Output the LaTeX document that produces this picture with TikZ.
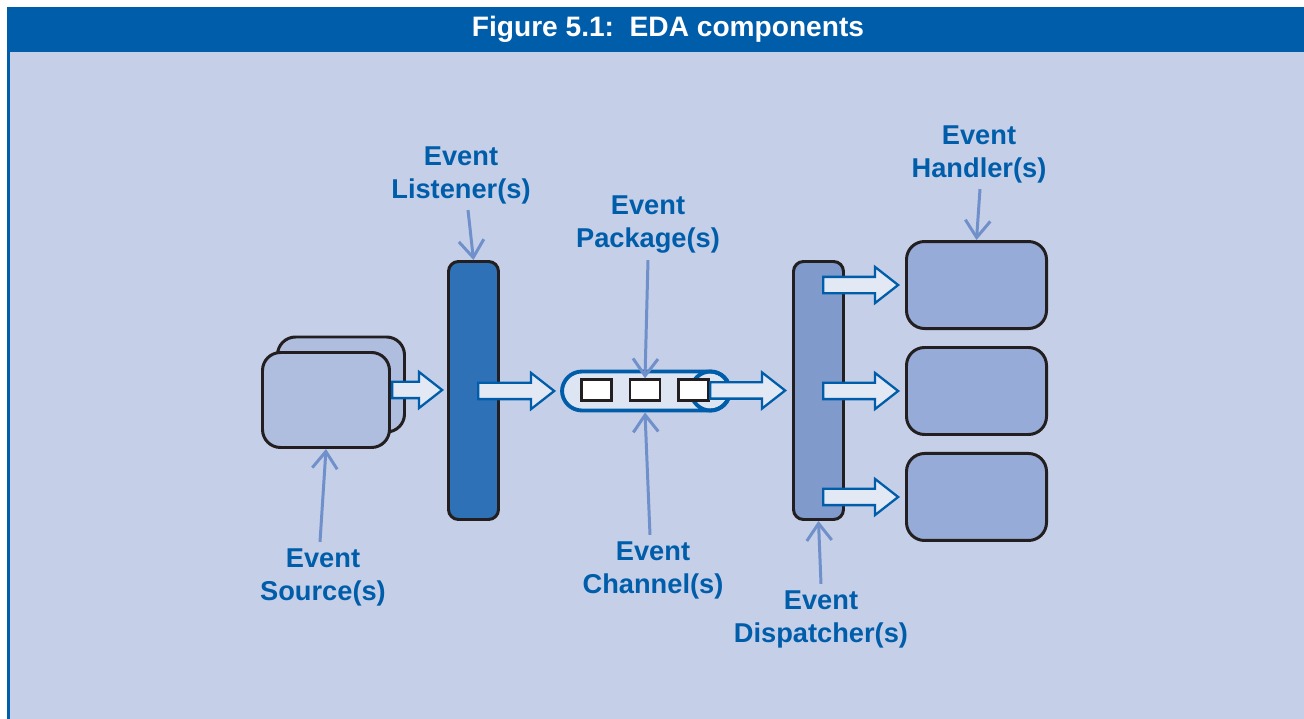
\documentclass[tikz,border=0pt]{standalone}
\usepackage{fontspec}
\setmainfont{Liberation Sans}
\usetikzlibrary{positioning, shapes.arrows, arrows.meta, calc}
\definecolor{edablue}{RGB}{0,93,170}
\definecolor{edablack}{RGB}{35,31,32}
\definecolor{panel}{RGB}{197,207,231}
\definecolor{srcfill}{RGB}{175,190,223}
\definecolor{lsnfill}{RGB}{46,113,183}
\definecolor{dspfill}{RGB}{127,154,203}
\definecolor{hdlfill}{RGB}{151,171,216}
\definecolor{chanfill}{RGB}{221,228,242}
\definecolor{arrowfill}{RGB}{226,232,244}
\definecolor{ptrcol}{RGB}{112,144,203}

\begin{document}
\begin{tikzpicture}[
    box/.style={rectangle, rounded corners=0.36cm, draw=edablack, line width=1.7pt, inner sep=0pt},
    srcbox/.style={box, fill=srcfill, minimum width=2.54cm, minimum height=1.9cm},
    hdlbox/.style={box, fill=hdlfill, minimum width=2.8cm, minimum height=1.74cm},
    bar/.style={box, rounded corners=0.2cm, minimum width=1.0cm, minimum height=5.16cm},
    chan/.style={rectangle, rounded corners=0.4cm, draw=edablue, fill=chanfill, line width=2.2pt, minimum width=3.36cm, minimum height=0.78cm, inner sep=0pt},
    chanend/.style={circle, draw=edablue, line width=2.2pt, minimum size=0.78cm, inner sep=0pt},
    pkg/.style={rectangle, draw=edablack, fill=white, line width=1.4pt, minimum width=0.6cm, minimum height=0.42cm, inner sep=0pt},
    fatarrow/.style={single arrow, draw=edablue, fill=arrowfill, line width=1.3pt, inner sep=0pt, inner ysep=0.14cm, single arrow head extend=0.2cm, single arrow tip angle=76},
    lbl/.style={text=edablue, font=\fontsize{15.5}{18.8}\selectfont\bfseries, align=center, inner sep=0pt},
    pointer/.style={draw=ptrcol, line width=1.7pt, -{Straight Barb[length=0.34cm, width=0.5cm]}}
]
    \useasboundingbox (0,0) rectangle (26.08,-14.38);

    % Frame and title band
    \fill[white] (0,0) rectangle (26.08,-14.38);
    \fill[panel] (0.14,-1.04) rectangle (26.08,-14.38);
    \fill[edablue] (0.14,-0.14) rectangle (26.08,-1.04);
    \draw[edablue, line width=1.2pt] (0.17,-1.04) -- (0.17,-14.38);
    \node[text=white, font=\fontsize{16}{19}\selectfont\bfseries, inner sep=0pt] (title) at (13.36,-0.58) {Figure 5.1:\ \ EDA components};

    % Sources and listener
    \node[srcbox] (srcback) at (6.82,-7.69) {};
    \node[srcbox] (src) at (6.52,-8.0) {};
    \node[bar, fill=lsnfill] (listener) at (9.47,-7.81) {};

    % Channel with packages
    \node[chan] (channel) at (12.92,-7.82) {};
    \node[chanend, anchor=east] (chanend) at (channel.east) {};
    \node[pkg] (pk2) at (12.9,-7.8) {};
    \node[pkg, left=0.32cm of pk2] (pk1) {};
    \node[pkg, right=0.32cm of pk2] (pk3) {};

    % Dispatcher and handlers
    \node[bar, fill=dspfill] (dispatcher) at (16.37,-7.81) {};
    \node[hdlbox] (h2) at (19.53,-7.82) {};
    \node[hdlbox, above=0.32cm of h2] (h1) {};
    \node[hdlbox, below=0.32cm of h2] (h3) {};

    % Flow arrows
    \node[fatarrow, minimum height=1.0cm, anchor=tail] (a1) at ([yshift=0.2cm]src.east) {};
    \node[fatarrow, minimum height=1.52cm, anchor=tip] (a2) at ([xshift=-0.08cm]channel.west) {};
    \node[fatarrow, minimum height=1.5cm, anchor=tip] (a3) at ([xshift=-0.1cm]dispatcher.west) {};
    \node[fatarrow, minimum height=1.5cm, anchor=tip] (d1) at ([xshift=-0.1cm]h1.west) {};
    \node[fatarrow, minimum height=1.5cm, anchor=tip] (d2) at ([xshift=-0.1cm]h2.west) {};
    \node[fatarrow, minimum height=1.5cm, anchor=tip] (d3) at ([xshift=-0.1cm]h3.west) {};

    % Labels
    \node[lbl] (lsnlbl) at (9.22,-3.5) {Event\\Listener(s)};
    \node[lbl] (pkglbl) at (12.96,-4.5) {Event\\Package(s)};
    \node[lbl] (hdllbl) at (19.58,-3.08) {Event\\Handler(s)};
    \node[lbl] (srclbl) at (6.46,-11.54) {Event\\Source(s)};
    \node[lbl] (chnlbl) at (13.06,-11.4) {Event\\Channel(s)};
    \node[lbl] (dsplbl) at (16.42,-12.38) {Event\\Dispatcher(s)};

    % Pointers
    \draw[pointer] ([xshift=0.14cm, yshift=-0.12cm]lsnlbl.south) -- (listener.north);
    \draw[pointer] ([yshift=-0.12cm]pkglbl.south) -- (pk2.north);
    \draw[pointer] ([xshift=0.02cm, yshift=-0.12cm]hdllbl.south) -- (h1.north);
    \draw[pointer] ([xshift=-0.06cm, yshift=0.12cm]srclbl.north) -- (src.south);
    \draw[pointer] ([xshift=-0.06cm, yshift=0.12cm]chnlbl.north) -- ([xshift=-0.02cm]channel.south);
    \draw[pointer] ([yshift=0.12cm]dsplbl.north) -- (dispatcher.south);

\end{tikzpicture}
\end{document}
